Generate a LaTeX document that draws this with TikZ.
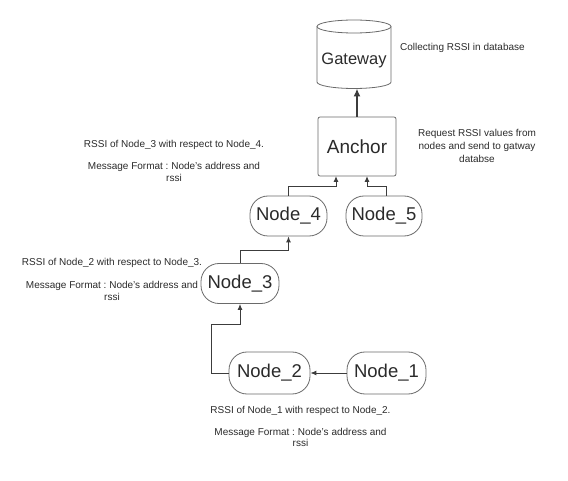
\documentclass[tikz,border=0pt]{standalone}
\usepackage{fontspec}
\setmainfont{Liberation Sans}
\usetikzlibrary{arrows.meta}
\definecolor{edgec}{HTML}{3C3C3C}
\definecolor{borderc}{HTML}{6A6A6A}
\definecolor{txtc}{HTML}{2A2A2A}
\frenchspacing
\begin{document}
\begin{tikzpicture}[x=1pt,y=1pt,
  nodebox/.style={draw=borderc, line width=0.8pt, rounded corners=18pt, inner sep=0pt, text=txtc, font=\fontsize{18.5}{20}\selectfont},
  anchorbox/.style={draw=borderc, line width=0.8pt, rounded corners=2pt, inner sep=0pt, text=txtc, font=\fontsize{19}{21}\selectfont},
  conn/.style={draw=edgec, line width=1pt, -{Latex[length=6pt,width=5pt]}},
  note/.style={inner sep=0pt, text=txtc, font=\fontsize{10}{11.5}\selectfont, align=center}
]
\useasboundingbox (0,0) rectangle (568,480);
% Gateway cylinder
\node[inner sep=0pt, minimum width=74, minimum height=71, text=txtc, font=\fontsize{16.5}{18}\selectfont] (gw) at (354,420) {Gateway};
\draw[borderc, line width=0.8pt, fill=white] (354,453.5) ellipse [x radius=37, y radius=6.5];
\draw[borderc, line width=0.8pt] (317,453.5) -- (317,398) arc[start angle=180, end angle=360, x radius=37, y radius=6.5] -- (391,453.5);
\coordinate (gwb) at (357,391.5);
% Anchor
\node[anchorbox, minimum width=78, minimum height=59] (anchor) at (357,333.5) {Anchor};
% Nodes
\node[nodebox, minimum width=77, minimum height=40] (n4) at (288.5,264) {Node\_4};
\node[nodebox, minimum width=76, minimum height=40] (n5) at (384,264) {Node\_5};
\node[nodebox, minimum width=78, minimum height=40] (n3) at (240,196.5) {Node\_3};
\node[nodebox, minimum width=81, minimum height=42] (n2) at (269.5,107) {Node\_2};
\node[nodebox, minimum width=79, minimum height=42] (n1) at (386.5,107) {Node\_1};
% connectors
\draw[draw=edgec, line width=2.2pt, -{Latex[length=8pt,width=7pt]}] (anchor.north -| gwb) -- (gwb);
\draw[conn] (n4.north) |- (336,293) -- (336,304);
\draw[conn] (n5.north -| 386,0) |- (367,293) -- (367,304);
\draw[conn] (n3.north) |- (288.5,229) -- (n4.south);
\draw[conn] (n2.west) -| (211,156) -| (n3.south);
\draw[conn] (n1.west) -- (n2.east);
% texts
\node[note, anchor=west] (t1) at (400,432) {Collecting RSSI in database};
\node[note, font=\fontsize{10}{13}\selectfont] (t2) at (477,334) {Request RSSI values from\\nodes and send to gatway\\databse};
\node[note, anchor=north] (t3) at (174,339.5) {RSSI of Node\_3 with respect to Node\_4.\\[10.5pt] Message Format : Node's address and\\ rssi};
\node[note, anchor=north] (t4) at (112,222) {RSSI of Node\_2 with respect to Node\_3.\\[12pt] Message Format : Node's address and\\ rssi};
\node[note, anchor=north] (t5) at (300.5,74) {RSSI of Node\_1 with respect to Node\_2.\\[10.5pt] Message Format : Node's address and\\ rssi};
\end{tikzpicture}
\end{document}
